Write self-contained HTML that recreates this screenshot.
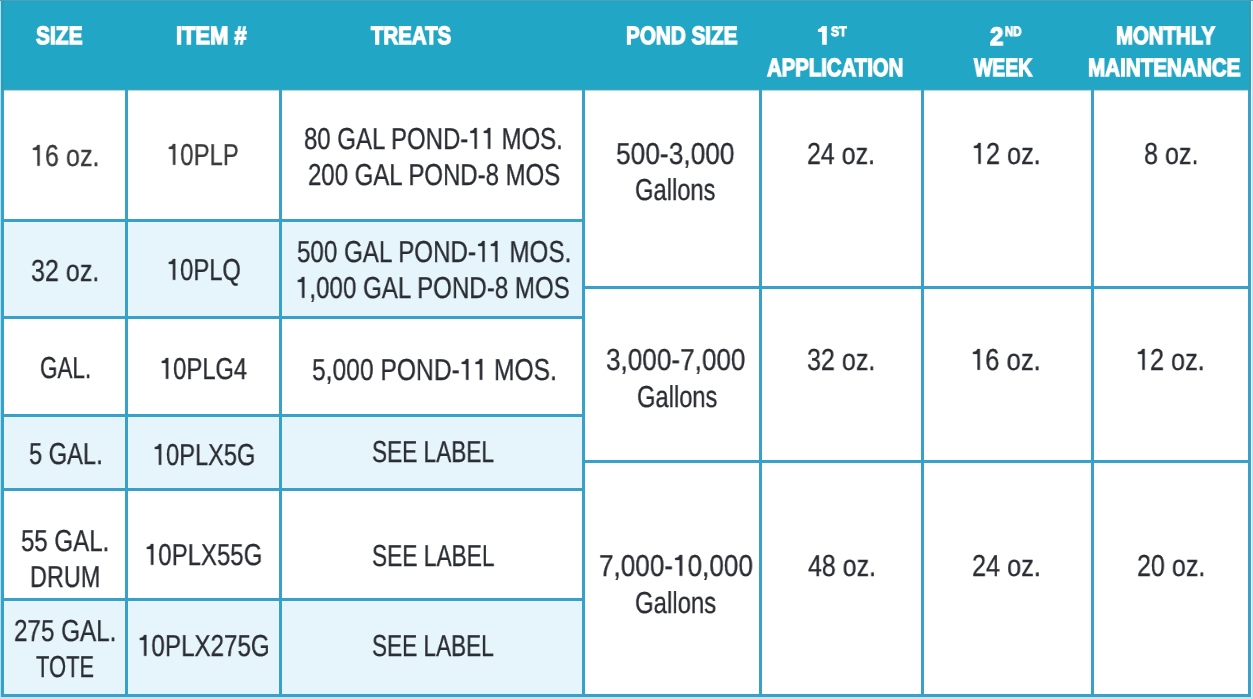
<!DOCTYPE html>
<html><head><meta charset="utf-8"><style>
html,body{margin:0;padding:0;background:#fff;}
body{width:1253px;height:699px;position:relative;overflow:hidden;}
div{position:absolute;}
span{position:absolute;will-change:transform;white-space:pre;line-height:1;text-rendering:geometricPrecision;font-family:"Liberation Sans",sans-serif;transform-origin:0 0;}
span.h{color:#fff;font-weight:700;-webkit-text-stroke:1.4px #fff;}
span.s{color:#fff;font-weight:700;-webkit-text-stroke:1.0px #fff;}
span.b{color:#2a2d33;font-weight:400;-webkit-text-stroke:0.3px #2a2d33;}
span.g{color:#3b3b3d;font-weight:400;-webkit-text-stroke:0.3px #3b3b3d;}
</style></head><body>
<div style="left:1px;top:219px;width:584px;height:97px;background:#e6f5fb"></div>
<div style="left:1px;top:414px;width:584px;height:74px;background:#e6f5fb"></div>
<div style="left:1px;top:598px;width:584px;height:96px;background:#e6f5fb"></div>
<div style="left:0;top:0;width:1251px;height:89px;background:#21a6c5"></div>
<div style="left:1px;top:89px;width:1250px;height:1px;background:#47a0b2"></div>
<div style="left:1px;top:90px;width:1250px;height:1px;background:#a8dde6"></div>
<div style="left:1px;top:89px;width:3px;height:608px;background:#37a1c9"></div>
<div style="left:125px;top:89px;width:3px;height:608px;background:#37a1c9"></div>
<div style="left:279px;top:89px;width:3px;height:608px;background:#37a1c9"></div>
<div style="left:582px;top:89px;width:3px;height:608px;background:#37a1c9"></div>
<div style="left:759px;top:89px;width:3px;height:608px;background:#37a1c9"></div>
<div style="left:921px;top:89px;width:3px;height:608px;background:#37a1c9"></div>
<div style="left:1091px;top:89px;width:3px;height:608px;background:#37a1c9"></div>
<div style="left:1248px;top:89px;width:3px;height:608px;background:#37a1c9"></div>
<div style="left:1px;top:219px;width:584px;height:3px;background:#37a1c9"></div>
<div style="left:1px;top:316px;width:584px;height:3px;background:#37a1c9"></div>
<div style="left:1px;top:414px;width:584px;height:3px;background:#37a1c9"></div>
<div style="left:1px;top:488px;width:584px;height:3px;background:#37a1c9"></div>
<div style="left:1px;top:598px;width:584px;height:3px;background:#37a1c9"></div>
<div style="left:1px;top:694px;width:584px;height:3px;background:#37a1c9"></div>
<div style="left:1px;top:694px;width:1250px;height:3px;background:#37a1c9"></div>
<div style="left:0;top:0;width:1px;height:699px;background:#b3e2ee"></div>
<div style="left:1252px;top:0;width:1px;height:699px;background:#b8ecf6"></div>
<div style="left:1249px;top:0;width:2px;height:90px;background:#2f9bb6"></div>
<div style="left:1px;top:0;width:3px;height:90px;background:#2b9db8"></div>
<div style="left:0;top:0;width:1253px;height:1px;background:#4aa0b8"></div>
<div style="left:0;top:697px;width:1253px;height:2px;background:#c4e6ef"></div>
<div style="left:582px;top:286px;width:669px;height:3px;background:#37a1c9"></div>
<div style="left:582px;top:460px;width:669px;height:3px;background:#37a1c9"></div>
<span class="h" style="left:36.00px;top:24.00px;font-size:25px;transform:scale(0.8364,1)">SIZE</span>
<span class="h" style="left:176.00px;top:24.00px;font-size:25px;transform:scale(0.875,1)">ITEM #</span>
<span class="h" style="left:371.00px;top:24.00px;font-size:25px;transform:scale(0.8163,1)">TREATS</span>
<span class="h" style="left:626.00px;top:24.00px;font-size:25px;transform:scale(0.8271,1)">POND SIZE</span>
<span class="s" style="left:830.70px;top:24.90px;font-size:13.75px;transform:scale(0.8889,1)">ST</span>
<span class="h" style="left:767.40px;top:56.40px;font-size:25px;transform:scale(0.8132,1)">APPLICATION</span>
<span class="h" style="left:990.40px;top:24.50px;font-size:25px;transform:scale(0.9603,1)">2</span>
<span class="s" style="left:1004.50px;top:24.90px;font-size:13.75px;transform:scale(0.8258,1)">ND</span>
<span class="h" style="left:973.60px;top:56.40px;font-size:25px;transform:scale(0.7766,1)">WEEK</span>
<span class="h" style="left:1116.30px;top:24.00px;font-size:25px;transform:scale(0.8158,1)">MONTHLY</span>
<span class="h" style="left:1088.00px;top:56.00px;font-size:25px;transform:scale(0.8246,1)">MAINTENANCE</span>
<span class="g" style="left:30.80px;top:141.60px;font-size:30.3px;transform:scale(0.8309,1)"><svg class="one" viewBox="0 0 556 687" style="width:0.556em;height:0.687em;vertical-align:baseline;overflow:visible"><path d="M250 0 L345 0 L345 687 L250 687 L250 165 L75 165 L75 100 Q215 100 250 0 Z" fill="currentColor" stroke="currentColor" stroke-width="9.9"/></svg>6 oz.</span>
<span class="g" style="left:167.20px;top:141.40px;font-size:30.3px;transform:scale(0.7887,1)"><svg class="one" viewBox="0 0 556 687" style="width:0.556em;height:0.687em;vertical-align:baseline;overflow:visible"><path d="M250 0 L345 0 L345 687 L250 687 L250 165 L75 165 L75 100 Q215 100 250 0 Z" fill="currentColor" stroke="currentColor" stroke-width="9.9"/></svg>0PLP</span>
<span class="b" style="left:304.20px;top:125.20px;font-size:30.3px;transform:scale(0.791,1)">80 GAL POND-<svg class="one" viewBox="0 0 556 687" style="width:0.556em;height:0.687em;vertical-align:baseline;overflow:visible"><path d="M250 0 L345 0 L345 687 L250 687 L250 165 L75 165 L75 100 Q215 100 250 0 Z" fill="currentColor" stroke="currentColor" stroke-width="9.9"/></svg><svg class="one" viewBox="0 0 556 687" style="width:0.556em;height:0.687em;vertical-align:baseline;overflow:visible"><path d="M250 0 L345 0 L345 687 L250 687 L250 165 L75 165 L75 100 Q215 100 250 0 Z" fill="currentColor" stroke="currentColor" stroke-width="9.9"/></svg> MOS.</span>
<span class="b" style="left:307.50px;top:161.00px;font-size:30.3px;transform:scale(0.7911,1)">200 GAL POND-8 MOS</span>
<span class="b" style="left:615.80px;top:140.40px;font-size:30.3px;transform:scale(0.8686,1)">500-3,000</span>
<span class="b" style="left:635.10px;top:176.40px;font-size:30.3px;transform:scale(0.7832,1)">Gallons</span>
<span class="b" style="left:807.00px;top:139.90px;font-size:30.3px;transform:scale(0.8253,1)">24 oz.</span>
<span class="b" style="left:971.60px;top:139.90px;font-size:30.3px;transform:scale(0.8333,1)"><svg class="one" viewBox="0 0 556 687" style="width:0.556em;height:0.687em;vertical-align:baseline;overflow:visible"><path d="M250 0 L345 0 L345 687 L250 687 L250 165 L75 165 L75 100 Q215 100 250 0 Z" fill="currentColor" stroke="currentColor" stroke-width="9.9"/></svg>2 oz.</span>
<span class="b" style="left:1144.00px;top:139.90px;font-size:30.3px;transform:scale(0.8306,1)">8 oz.</span>
<span class="b" style="left:31.10px;top:256.80px;font-size:30.3px;transform:scale(0.8285,1)">32 oz.</span>
<span class="b" style="left:166.80px;top:256.10px;font-size:30.3px;transform:scale(0.7824,1)"><svg class="one" viewBox="0 0 556 687" style="width:0.556em;height:0.687em;vertical-align:baseline;overflow:visible"><path d="M250 0 L345 0 L345 687 L250 687 L250 165 L75 165 L75 100 Q215 100 250 0 Z" fill="currentColor" stroke="currentColor" stroke-width="9.9"/></svg>0PLQ</span>
<span class="b" style="left:297.20px;top:238.30px;font-size:30.3px;transform:scale(0.7971,1)">500 GAL POND-<svg class="one" viewBox="0 0 556 687" style="width:0.556em;height:0.687em;vertical-align:baseline;overflow:visible"><path d="M250 0 L345 0 L345 687 L250 687 L250 165 L75 165 L75 100 Q215 100 250 0 Z" fill="currentColor" stroke="currentColor" stroke-width="9.9"/></svg><svg class="one" viewBox="0 0 556 687" style="width:0.556em;height:0.687em;vertical-align:baseline;overflow:visible"><path d="M250 0 L345 0 L345 687 L250 687 L250 165 L75 165 L75 100 Q215 100 250 0 Z" fill="currentColor" stroke="currentColor" stroke-width="9.9"/></svg> MOS.</span>
<span class="b" style="left:296.20px;top:273.80px;font-size:30.3px;transform:scale(0.7959,1)"><svg class="one" viewBox="0 0 556 687" style="width:0.556em;height:0.687em;vertical-align:baseline;overflow:visible"><path d="M250 0 L345 0 L345 687 L250 687 L250 165 L75 165 L75 100 Q215 100 250 0 Z" fill="currentColor" stroke="currentColor" stroke-width="9.9"/></svg>,000 GAL POND-8 MOS</span>
<span class="b" style="left:39.60px;top:354.00px;font-size:30.3px;transform:scale(0.7416,1)">GAL.</span>
<span class="b" style="left:159.80px;top:354.80px;font-size:30.3px;transform:scale(0.7834,1)"><svg class="one" viewBox="0 0 556 687" style="width:0.556em;height:0.687em;vertical-align:baseline;overflow:visible"><path d="M250 0 L345 0 L345 687 L250 687 L250 165 L75 165 L75 100 Q215 100 250 0 Z" fill="currentColor" stroke="currentColor" stroke-width="9.9"/></svg>0PLG4</span>
<span class="b" style="left:311.80px;top:355.70px;font-size:30.3px;transform:scale(0.8125,1)">5,000 POND-<svg class="one" viewBox="0 0 556 687" style="width:0.556em;height:0.687em;vertical-align:baseline;overflow:visible"><path d="M250 0 L345 0 L345 687 L250 687 L250 165 L75 165 L75 100 Q215 100 250 0 Z" fill="currentColor" stroke="currentColor" stroke-width="9.9"/></svg><svg class="one" viewBox="0 0 556 687" style="width:0.556em;height:0.687em;vertical-align:baseline;overflow:visible"><path d="M250 0 L345 0 L345 687 L250 687 L250 165 L75 165 L75 100 Q215 100 250 0 Z" fill="currentColor" stroke="currentColor" stroke-width="9.9"/></svg> MOS.</span>
<span class="b" style="left:606.40px;top:346.20px;font-size:30.3px;transform:scale(0.8625,1)">3,000-7,000</span>
<span class="b" style="left:636.50px;top:383.20px;font-size:30.3px;transform:scale(0.7822,1)">Gallons</span>
<span class="b" style="left:807.00px;top:345.80px;font-size:30.3px;transform:scale(0.8292,1)">32 oz.</span>
<span class="b" style="left:971.00px;top:345.80px;font-size:30.3px;transform:scale(0.8462,1)"><svg class="one" viewBox="0 0 556 687" style="width:0.556em;height:0.687em;vertical-align:baseline;overflow:visible"><path d="M250 0 L345 0 L345 687 L250 687 L250 165 L75 165 L75 100 Q215 100 250 0 Z" fill="currentColor" stroke="currentColor" stroke-width="9.9"/></svg>6 oz.</span>
<span class="b" style="left:1136.30px;top:345.80px;font-size:30.3px;transform:scale(0.8333,1)"><svg class="one" viewBox="0 0 556 687" style="width:0.556em;height:0.687em;vertical-align:baseline;overflow:visible"><path d="M250 0 L345 0 L345 687 L250 687 L250 165 L75 165 L75 100 Q215 100 250 0 Z" fill="currentColor" stroke="currentColor" stroke-width="9.9"/></svg>2 oz.</span>
<span class="b" style="left:28.60px;top:440.30px;font-size:30.3px;transform:scale(0.7814,1)">5 GAL.</span>
<span class="b" style="left:152.80px;top:440.80px;font-size:30.3px;transform:scale(0.7788,1)"><svg class="one" viewBox="0 0 556 687" style="width:0.556em;height:0.687em;vertical-align:baseline;overflow:visible"><path d="M250 0 L345 0 L345 687 L250 687 L250 165 L75 165 L75 100 Q215 100 250 0 Z" fill="currentColor" stroke="currentColor" stroke-width="9.9"/></svg>0PLX5G</span>
<span class="b" style="left:372.20px;top:438.30px;font-size:30.3px;transform:scale(0.7469,1)">SEE LABEL</span>
<span class="b" style="left:21.30px;top:527.00px;font-size:30.3px;transform:scale(0.7936,1)">55 GAL.</span>
<span class="b" style="left:29.90px;top:562.70px;font-size:30.3px;transform:scale(0.7725,1)">DRUM</span>
<span class="b" style="left:145.10px;top:541.30px;font-size:30.3px;transform:scale(0.791,1)"><svg class="one" viewBox="0 0 556 687" style="width:0.556em;height:0.687em;vertical-align:baseline;overflow:visible"><path d="M250 0 L345 0 L345 687 L250 687 L250 165 L75 165 L75 100 Q215 100 250 0 Z" fill="currentColor" stroke="currentColor" stroke-width="9.9"/></svg>0PLX55G</span>
<span class="b" style="left:372.30px;top:542.10px;font-size:30.3px;transform:scale(0.75,1)">SEE LABEL</span>
<span class="b" style="left:13.90px;top:617.00px;font-size:30.3px;transform:scale(0.8,1)">275 GAL.</span>
<span class="b" style="left:35.50px;top:652.60px;font-size:30.3px;transform:scale(0.7241,1)">TOTE</span>
<span class="b" style="left:138.00px;top:631.60px;font-size:30.3px;transform:scale(0.7976,1)"><svg class="one" viewBox="0 0 556 687" style="width:0.556em;height:0.687em;vertical-align:baseline;overflow:visible"><path d="M250 0 L345 0 L345 687 L250 687 L250 165 L75 165 L75 100 Q215 100 250 0 Z" fill="currentColor" stroke="currentColor" stroke-width="9.9"/></svg>0PLX275G</span>
<span class="b" style="left:372.20px;top:632.20px;font-size:30.3px;transform:scale(0.7456,1)">SEE LABEL</span>
<span class="b" style="left:598.70px;top:552.40px;font-size:30.3px;transform:scale(0.8621,1)">7,000-<svg class="one" viewBox="0 0 556 687" style="width:0.556em;height:0.687em;vertical-align:baseline;overflow:visible"><path d="M250 0 L345 0 L345 687 L250 687 L250 165 L75 165 L75 100 Q215 100 250 0 Z" fill="currentColor" stroke="currentColor" stroke-width="9.9"/></svg>0,000</span>
<span class="b" style="left:634.60px;top:588.60px;font-size:30.3px;transform:scale(0.7901,1)">Gallons</span>
<span class="b" style="left:807.50px;top:551.80px;font-size:30.3px;transform:scale(0.825,1)">48 oz.</span>
<span class="b" style="left:972.00px;top:551.80px;font-size:30.3px;transform:scale(0.8354,1)">24 oz.</span>
<span class="b" style="left:1137.00px;top:551.80px;font-size:30.3px;transform:scale(0.8292,1)">20 oz.</span>
<svg style="position:absolute;left:0;top:0" width="1253" height="100"><path d="M822.1 26.1 L826.8 26.1 L826.8 44.8 L822.1 44.8 L822.1 31.9 L817.9 31.9 L817.9 29.3 Q821.2 28.8 822.1 26.1 Z" fill="#fff"/></svg>
</body></html>
